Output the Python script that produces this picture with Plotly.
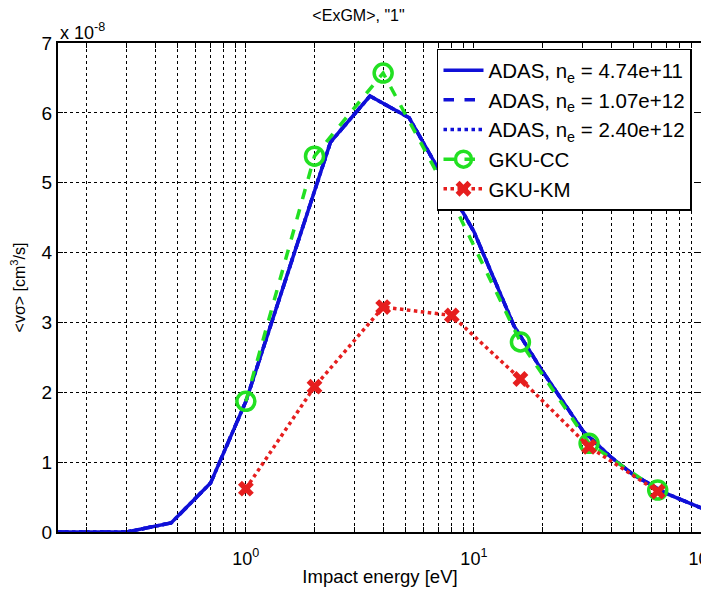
import numpy as np
import plotly.graph_objects as go

# ---- data (values in units of 1e-8 cm^3/s) ----
adas_energy = [0.15, 0.3, 0.47, 0.7, 1.0, 2.35, 3.5, 5.2, 10, 15, 20, 30, 40, 50, 70, 100]
adas_rate = [0.0, 0.0, 0.13, 0.70, 1.87, 5.58, 6.24, 5.93, 4.30, 2.95, 2.30, 1.45, 1.07, 0.82, 0.55, 0.34]
adas_labels = ["ADAS, n<sub>e</sub> = 4.74e+11",
               "ADAS, n<sub>e</sub> = 1.07e+12",
               "ADAS, n<sub>e</sub> = 2.40e+12"]

gku_energy = [1, 2, 4, 8, 16, 32, 64]
gku_cc = [1.87, 5.38, 6.57, 4.75, 2.72, 1.27, 0.60]
gku_km = [0.62, 2.08, 3.22, 3.10, 2.19, 1.22, 0.58]

y_ticks = [0, 1, 2, 3, 4, 5, 6, 7]
x_major = [1, 10, 100]
x_major_text = ["10<sup>0</sup>", "10<sup>1</sup>", "10<sup>2</sup>"]

FONT = "Liberation Sans, Arial, sans-serif"

fig = go.Figure()
dashes = ["solid", "dash", "dot"]
for lab, d in zip(adas_labels, dashes):
    fig.add_trace(go.Scatter(x=adas_energy, y=adas_rate, mode="lines", name=lab,
                             line=dict(color="#1010d8", width=3.5, dash=d)))
fig.add_trace(go.Scatter(x=gku_energy, y=gku_cc, mode="lines+markers", name="GKU-CC",
                         line=dict(color="#22e022", width=3.5, dash="dash"),
                         marker=dict(symbol="circle-open", size=18, color="#22e022",
                                     line=dict(width=3.5, color="#22e022"))))
fig.add_trace(go.Scatter(x=gku_energy, y=gku_km, mode="lines+markers", name="GKU-KM",
                         line=dict(color="#e61e1e", width=3.5, dash="dot"),
                         marker=dict(symbol="x", size=14, color="#e61e1e",
                                     line=dict(width=0))))

# grid positions on the log axis (minor + major)
grid_vals = []
for dec in [0.1, 1, 10]:
    for m in range(1, 10):
        v = m * dec
        if v >= 0.15 and v <= 100:
            grid_vals.append(round(v, 6))
grid_vals.append(100)
grid_text = []
for v in grid_vals:
    if v in x_major:
        grid_text.append(x_major_text[x_major.index(v)])
    else:
        grid_text.append("")

# the page body adds an 8 px margin, so the figure is 8 px smaller
fig.update_layout(
    width=701, height=585,
    margin=dict(l=50, r=7, t=35, b=61),
    paper_bgcolor="white", plot_bgcolor="white",
    font=dict(family=FONT, size=15, color="black"),
    title=dict(text='&lt;ExGM&gt;, "1"', x=0.5, xanchor="center", y=0.988, yanchor="middle",
               font=dict(size=16)),
    showlegend=True,
    legend=dict(x=0.5885, y=0.988, xanchor="left", yanchor="top",
                bgcolor="white", bordercolor="black", borderwidth=1.5,
                font=dict(size=20.5), tracegroupgap=0, itemwidth=40),
    xaxis=dict(type="log", range=[np.log10(0.15), 2.0004],
               tickvals=grid_vals, ticktext=grid_text, ticklabeloverflow="allow",
               ticks="inside", ticklen=5, tickcolor="black", mirror="ticks",
               showline=True, linecolor="black", linewidth=2,
               showgrid=True, gridcolor="black", griddash="dot", gridwidth=1.2,
               zeroline=False, tickfont=dict(size=18), automargin=False,
               ticklabelstandoff=9,
               title=dict(text="Impact energy [eV]", font=dict(size=18.5), standoff=2)),
    yaxis=dict(range=[0, 7], tickvals=y_ticks,
               ticks="inside", ticklen=5, tickcolor="black", mirror="ticks",
               showline=True, linecolor="black", linewidth=2,
               showgrid=True, gridcolor="black", griddash="dot", gridwidth=1.2,
               zeroline=False, tickfont=dict(size=19), automargin=False,
               title=dict(text="&lt;v\u03c3&gt; [cm<sup>3</sup>/s]", font=dict(size=16), standoff=12)),
)
fig.add_annotation(text="x 10<sup>-8</sup>", xref="paper", yref="paper", x=0.0, y=1.0,
                   xanchor="left", yanchor="bottom", showarrow=False,
                   font=dict(size=18), yshift=-2)

fig.write_html("out.html")
